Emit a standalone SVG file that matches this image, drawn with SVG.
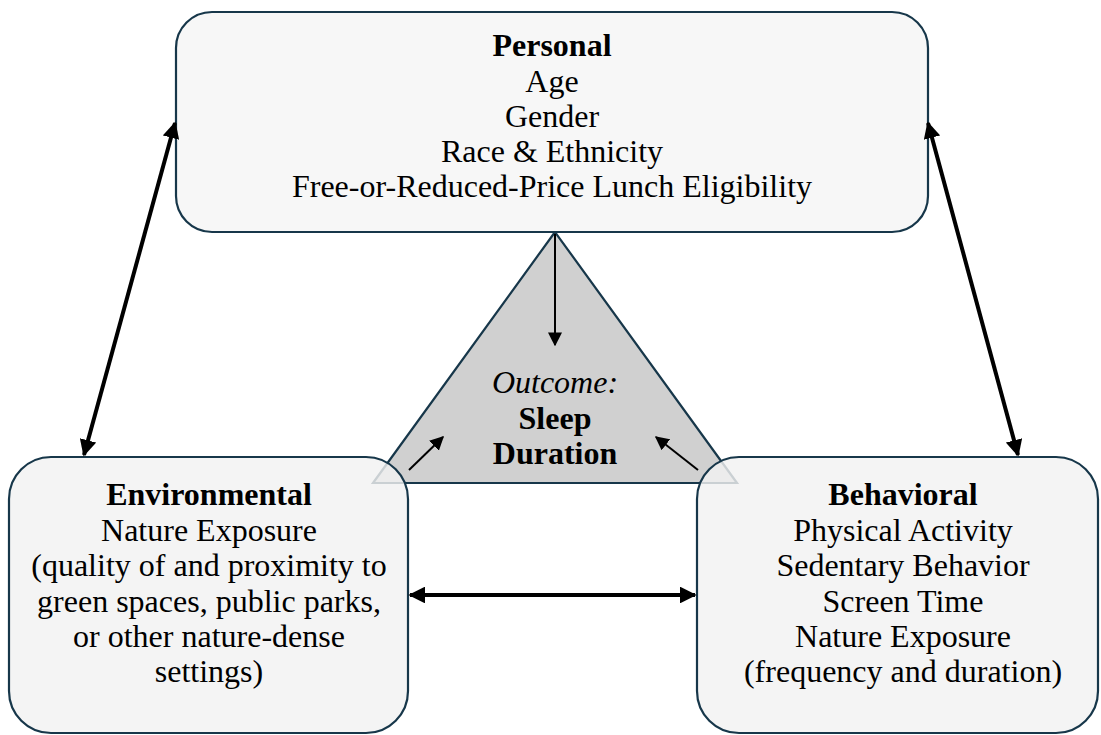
<svg xmlns="http://www.w3.org/2000/svg" width="1101" height="735" viewBox="0 0 1101 735">
<defs>
<style>
.box{stroke:#17374a;stroke-width:2.2}
.t{font-family:"Liberation Serif","Times New Roman",serif;font-size:32px;fill:#000;text-anchor:middle}
.b{font-weight:bold}
.i{font-style:italic}
.thick{stroke:#000;stroke-width:4;fill:none}
.thin{stroke:#000;stroke-width:2;fill:none}
</style>
<marker id="ah" viewBox="0 0 10 10" refX="9" refY="5" markerWidth="4.2" markerHeight="4.2" orient="auto-start-reverse" markerUnits="strokeWidth">
<path d="M0,0 L10,5 L0,10 z" fill="#000"/>
</marker>
<marker id="ah2" viewBox="0 0 10 10" refX="9" refY="5" markerWidth="7" markerHeight="7" orient="auto-start-reverse" markerUnits="strokeWidth">
<path d="M0,0 L10,5 L0,10 z" fill="#000"/>
</marker>
</defs>
<rect width="1101" height="735" fill="#fff"/>
<g id="outcome">
<polygon points="555,232 373,483 737,483" fill="#d0d0d0" stroke="#17374a" stroke-width="2.2" stroke-linejoin="miter"/>
<text class="t i" x="555" y="393">Outcome:</text>
<text class="t b" x="555" y="429">Sleep</text>
<text class="t b" x="555" y="464">Duration</text>
</g>
<g id="personal">
<rect class="box" x="176" y="12" width="752" height="220" rx="36" ry="36" fill="#f7f7f7"/>
<text class="t b" x="552" y="56">Personal</text>
<text class="t" x="552" y="92">Age</text>
<text class="t" x="552" y="127">Gender</text>
<text class="t" x="552" y="162">Race &amp; Ethnicity</text>
<text class="t" x="552" y="197">Free-or-Reduced-Price Lunch Eligibility</text>
</g>
<g id="environmental">
<rect class="box" x="9" y="457" width="399" height="276" rx="42" ry="42" fill="#f2f2f2" fill-opacity="0.82"/>
<text class="t b" x="209" y="505">Environmental</text>
<text class="t" x="209" y="541">Nature Exposure</text>
<text class="t" x="209" y="576">(quality of and proximity to</text>
<text class="t" x="209" y="612">green spaces, public parks,</text>
<text class="t" x="209" y="647">or other nature-dense</text>
<text class="t" x="209" y="682">settings)</text>
</g>
<g id="behavioral">
<rect class="box" x="697" y="457" width="401" height="276" rx="42" ry="42" fill="#f2f2f2" fill-opacity="0.82"/>
<text class="t b" x="903" y="505">Behavioral</text>
<text class="t" x="903" y="541">Physical Activity</text>
<text class="t" x="903" y="576">Sedentary Behavior</text>
<text class="t" x="903" y="612">Screen Time</text>
<text class="t" x="903" y="647">Nature Exposure</text>
<text class="t" x="903" y="682">(frequency and duration)</text>
</g>
<g id="connectors">
<line class="thick" x1="175" y1="123" x2="84" y2="455" marker-start="url(#ah)" marker-end="url(#ah)"/>
<line class="thick" x1="928" y1="123" x2="1018" y2="455" marker-start="url(#ah)" marker-end="url(#ah)"/>
<line class="thick" x1="410" y1="595" x2="695" y2="595" marker-start="url(#ah)" marker-end="url(#ah)"/>
<line class="thin" x1="555" y1="234" x2="555" y2="345" marker-end="url(#ah2)"/>
<line class="thin" x1="409" y1="470" x2="443" y2="437" marker-end="url(#ah2)"/>
<line class="thin" x1="698" y1="470" x2="656" y2="437" marker-end="url(#ah2)"/>
</g>
</svg>
